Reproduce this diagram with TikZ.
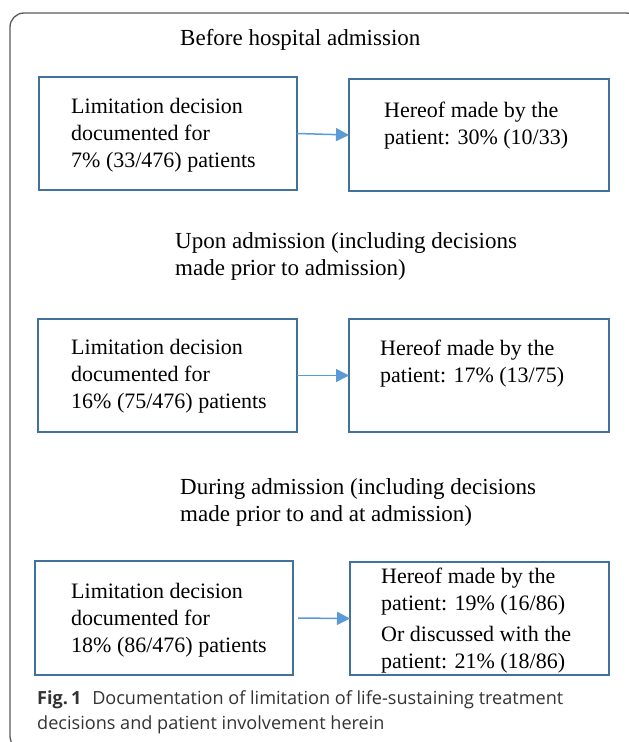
\documentclass[tikz,border=0pt]{standalone}
\usepackage{fontspec}
\setmainfont{Liberation Serif}
\newfontfamily\capfont{Open Sans}
\usetikzlibrary{arrows.meta}
\definecolor{boxblue}{HTML}{41719C}
\definecolor{arrowblue}{HTML}{5B9BD5}
\definecolor{framegray}{HTML}{5A5A5A}
\definecolor{captext}{HTML}{333333}
\begin{document}
\begin{tikzpicture}[x=1bp,y=-1bp,
  bx/.style={draw=boxblue, line width=1.8bp, rectangle, anchor=north west, inner sep=0pt, outer sep=0pt},
  txt/.style={anchor=west, align=left, inner sep=0pt, font=\fontsize{22bp}{27bp}\selectfont},
  head/.style={anchor=west, align=left, inner sep=0pt, font=\fontsize{23bp}{27bp}\selectfont},
  arr/.style={draw=arrowblue, line width=1.5bp, -{Triangle[length=13bp,width=13bp]}},
  captionstyle/.style={anchor=west, align=left, inner sep=0pt, text=captext, font=\capfont\fontsize{18.1bp}{25bp}\selectfont}]
\useasboundingbox (0,0) rectangle (629,742);
\clip (0,0) rectangle (629,742);
\draw[framegray, line width=1.3bp, rounded corners=14bp] (10,13) rectangle (640,750);
% boxes
\node[bx, minimum width=258bp, minimum height=113bp] (b1l) at (39,77) {};
\node[bx, minimum width=260bp, minimum height=112bp] (b1r) at (349,79) {};
\node[bx, minimum width=259bp, minimum height=113bp] (b2l) at (38,319) {};
\node[bx, minimum width=260bp, minimum height=113bp] (b2r) at (349,319) {};
\node[bx, minimum width=258bp, minimum height=114bp] (b3l) at (35,561) {};
\node[bx, minimum width=259bp, minimum height=113bp] (b3r) at (350,562) {};
% headings
\node[head] (h1) at (180,40) {Before hospital admission};
\node[head] (h2) at (175,256) {Upon admission (including decisions\\made prior to admission)};
\node[head] (h3) at (180,502.5) {During admission (including decisions\\made prior to and at admission)};
% texts
\node[txt] (t1l) at (71,135) {Limitation decision\\documented for\\7\% (33/476) patients};
\node[txt] (t1r) at (384,125.5) {Hereof made by the\\patient: 30\% (10/33)};
\node[txt] (t2l) at (71,376) {Limitation decision\\documented for\\16\% (75/476) patients};
\node[txt] (t2r) at (380,364) {Hereof made by the\\patient: 17\% (13/75)};
\node[txt] (t3l) at (71,620) {Limitation decision\\documented for\\18\% (86/476) patients};
\node[txt] (t3r) at (381,621) {Hereof made by the\\patient: 19\% (16/86)\\[4bp]Or discussed with the\\patient: 21\% (18/86)};
% arrows
\draw[arr] (b1l.east) -- (b1r.west);
\draw[arr] (b2l.east) -- (b2r.west);
\draw[arr, shorten <=5bp] (b3l.east) -- (b3r.west);
% caption
\node[captionstyle] (capt) at (37,712) {{\bfseries Fig.\,1}\hspace{0.6em}Documentation of limitation of life-sustaining treatment\\decisions and patient involvement herein};
\end{tikzpicture}
\end{document}
